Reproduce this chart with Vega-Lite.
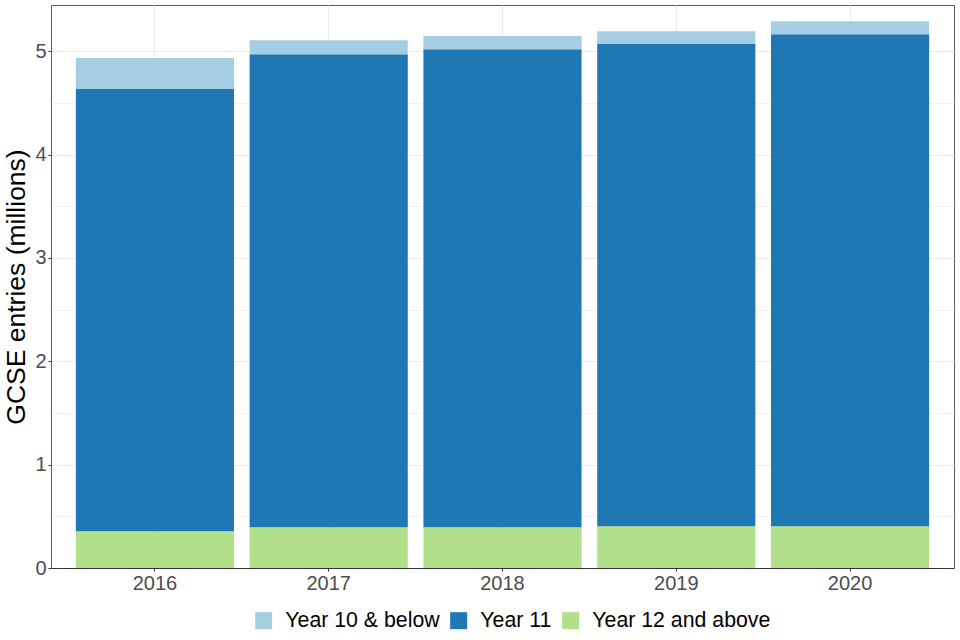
{
  "$schema": "https://vega.github.io/schema/vega-lite/v6.json",
  "width": 903,
  "height": 563,
  "autosize": {"type": "none"},
  "padding": {"left": 51, "top": 5, "right": 6, "bottom": 72},
  "background": "white",
  "config": {
    "font": "Liberation Sans",
    "view": {"stroke": "#5a5a5a", "strokeWidth": 1}
  },
  "data": {
    "values": [
      {"year": "2016", "group": "Year 12 and above", "entries": 0.355},
      {"year": "2016", "group": "Year 11", "entries": 4.279},
      {"year": "2016", "group": "Year 10 & below", "entries": 0.300},
      {"year": "2017", "group": "Year 12 and above", "entries": 0.394},
      {"year": "2017", "group": "Year 11", "entries": 4.576},
      {"year": "2017", "group": "Year 10 & below", "entries": 0.137},
      {"year": "2018", "group": "Year 12 and above", "entries": 0.394},
      {"year": "2018", "group": "Year 11", "entries": 4.626},
      {"year": "2018", "group": "Year 10 & below", "entries": 0.126},
      {"year": "2019", "group": "Year 12 and above", "entries": 0.404},
      {"year": "2019", "group": "Year 11", "entries": 4.666},
      {"year": "2019", "group": "Year 10 & below", "entries": 0.124},
      {"year": "2020", "group": "Year 12 and above", "entries": 0.404},
      {"year": "2020", "group": "Year 11", "entries": 4.761},
      {"year": "2020", "group": "Year 10 & below", "entries": 0.125}
    ]
  },
  "mark": {"type": "bar", "strokeWidth": 0},
  "encoding": {
    "x": {
      "field": "year",
      "type": "ordinal",
      "scale": {"paddingInner": 0.09, "paddingOuter": 0.143},
      "axis": {
        "title": null,
        "labelAngle": 0,
        "labelFontSize": 20,
        "labelColor": "#4D4D4D",
        "labelPadding": 2,
        "tickColor": "#333333",
        "tickSize": 3,
        "grid": true,
        "gridColor": "#EBEBEB",
        "gridWidth": 1,
        "bandPosition": 0.5,
        "domain": true,
        "domainColor": "#333333"
      }
    },
    "y": {
      "field": "entries",
      "type": "quantitative",
      "stack": "zero",
      "scale": {"domain": [0, 5.447], "nice": false},
      "axis": {
        "title": "GCSE entries (millions)",
        "titleFontSize": 26.5,
        "titleFontWeight": "normal",
        "titleColor": "black",
        "titlePadding": 4,
        "values": [0, 0.5, 1, 1.5, 2, 2.5, 3, 3.5, 4, 4.5, 5],
        "labelExpr": "datum.value % 1 === 0 ? format(datum.value, 'd') : ''",
        "labelFontSize": 20,
        "labelColor": "#4D4D4D",
        "labelPadding": 2,
        "tickSize": 3,
        "tickColor": "#333333",
        "tickOpacity": {"condition": {"test": "datum.value % 1 !== 0", "value": 0}, "value": 1},
        "grid": true,
        "gridColor": "#EBEBEB",
        "gridWidth": {"condition": {"test": "datum.value % 1 !== 0", "value": 0.6}, "value": 1.1},
        "domain": false
      }
    },
    "color": {
      "field": "group",
      "type": "nominal",
      "scale": {
        "domain": ["Year 10 & below", "Year 11", "Year 12 and above"],
        "range": ["#A6CEE3", "#1F78B4", "#B2DF8A"]
      },
      "legend": {
        "title": null,
        "orient": "none",
        "legendX": 202,
        "legendY": 605,
        "padding": 0,
        "direction": "horizontal",
        "symbolType": "square",
        "symbolSize": 289,
        "symbolStrokeWidth": 0,
        "labelFontSize": 21.3,
        "labelColor": "black",
        "labelLimit": 0,
        "labelOffset": 11,
        "columnPadding": 8
      }
    },
    "order": {"field": "group", "sort": "descending"}
  }
}
